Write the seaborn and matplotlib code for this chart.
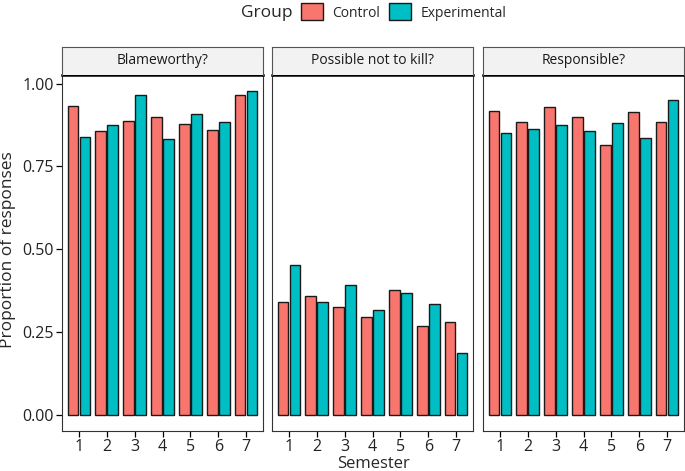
import pandas as pd
import matplotlib.pyplot as plt
import seaborn as sns
from matplotlib.patches import Patch
from matplotlib.ticker import FormatStrFormatter

# data
semesters = ["1", "2", "3", "4", "5", "6", "7"]
questions = ["Blameworthy?", "Possible not to kill?", "Responsible?"]
groups = ["Control", "Experimental"]

blame_control = [0.931, 0.856, 0.886, 0.900, 0.878, 0.860, 0.965]
blame_exp = [0.840, 0.874, 0.967, 0.832, 0.907, 0.884, 0.977]
possible_control = [0.341, 0.360, 0.324, 0.294, 0.376, 0.268, 0.281]
possible_exp = [0.451, 0.341, 0.391, 0.317, 0.368, 0.334, 0.188]
resp_control = [0.918, 0.883, 0.930, 0.900, 0.816, 0.915, 0.883]
resp_exp = [0.850, 0.862, 0.874, 0.857, 0.881, 0.837, 0.950]

colors = {"Control": "#F8766D", "Experimental": "#00BFC4"}

series = {
    "Blameworthy?": (blame_control, blame_exp),
    "Possible not to kill?": (possible_control, possible_exp),
    "Responsible?": (resp_control, resp_exp),
}
rows = []
for q in questions:
    for g, vals in zip(groups, series[q]):
        for s, v in zip(semesters, vals):
            rows.append({"Question": q, "Group": g, "Semester": s, "Proportion": v})
df = pd.DataFrame(rows)

sns.set_style("white")
plt.rcParams["font.family"] = ["Open Sans", "DejaVu Sans"]

fig = plt.figure(figsize=(6.85, 4.71), dpi=100)
W, H = 685, 471
panel_left = [62, 272, 483]
panel_w = 201
panel_top, panel_bottom = 75, 431
strip_h = 28

for i, q in enumerate(questions):
    ax = fig.add_axes([panel_left[i] / W, 1 - panel_bottom / H,
                       panel_w / W, (panel_bottom - panel_top) / H])
    sns.barplot(data=df[df["Question"] == q], x="Semester", y="Proportion",
                hue="Group", hue_order=groups, order=semesters, palette=colors,
                saturation=1, width=0.86, gap=0.13, edgecolor="#1a1a1a",
                linewidth=1.0, legend=False, ax=ax, errorbar=None)
    ax.set_xlim(-0.6, 6.6)
    ax.set_ylim(-0.049, 1.026)
    ax.set_yticks([0, 0.25, 0.5, 0.75, 1.0])
    ax.yaxis.set_major_formatter(FormatStrFormatter("%.2f"))
    ax.set_xlabel("")
    ax.set_ylabel("")
    ax.tick_params(axis="both", length=4, width=0.9, color="black",
                   labelsize=11.5, labelcolor="#222222", pad=2,
                   bottom=True, left=(i == 0))
    if i > 0:
        ax.set_yticklabels([])
    for name, sp in ax.spines.items():
        sp.set_color("#333333")
        sp.set_linewidth(0.8)
    ax.spines["top"].set_color("black")
    ax.spines["top"].set_linewidth(1.8)

    sax = fig.add_axes([panel_left[i] / W, 1 - panel_top / H,
                        panel_w / W, strip_h / H])
    sax.set_facecolor("#F2F2F2")
    sax.set_xticks([])
    sax.set_yticks([])
    for name, sp in sax.spines.items():
        sp.set_color("#555555")
        sp.set_linewidth(0.8)
    sax.spines["bottom"].set_visible(False)
    sax.text(0.5, 0.5, q, ha="center", va="center", fontsize=10,
             color="#1a1a1a", transform=sax.transAxes)

fig.text(373 / W, 1 - 468 / H, "Semester", ha="center", va="baseline", fontsize=12)
fig.text(8 / W, 1 - 250 / H, "Proportion of responses", ha="center",
         va="center", rotation=90, fontsize=12.5)

fig.text(267 / W, 1 - 13 / H, "Group", ha="center", va="center", fontsize=12.5)
handles = [Patch(facecolor=colors[g], edgecolor="#1a1a1a", linewidth=1.0) for g in groups]
fig.legend(handles, groups, loc="center left", bbox_to_anchor=(301 / W, 1 - 12 / H),
           ncol=2, frameon=False, fontsize=10, handlelength=1.55, handleheight=1.5,
           handletextpad=0.7, columnspacing=0.65, borderaxespad=0, borderpad=0)

plt.savefig("out.png", dpi=100)
plt.close()
